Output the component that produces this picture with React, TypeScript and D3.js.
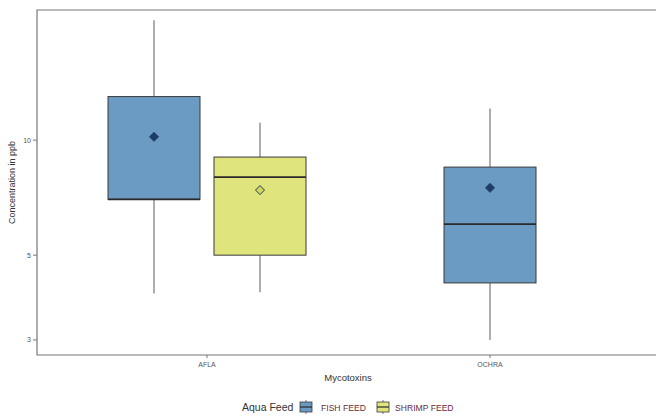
import React from "react";
import * as d3 from "d3";

const categories = ["AFLA", "OCHRA"];
const groups = ["FISH FEED", "SHRIMP FEED"];
// [category, group, whiskerLow, q1, median, q3, whiskerHigh, mean]
const boxes: [string, string, number, number, number, number, number, number][] = [
  ["AFLA", "FISH FEED", 3.97, 7.0, 7.0, 13.0, 20.6, 10.2],
  ["AFLA", "SHRIMP FEED", 4.0, 5.0, 8.0, 9.03, 11.1, 7.4],
  ["OCHRA", "FISH FEED", 3.0, 4.23, 6.03, 8.5, 12.1, 7.5],
];
const yTicks = [3, 5, 10];

const fills: Record<string, string> = { "FISH FEED": "#6b9bc3", "SHRIMP FEED": "#dfe47c" };
const meanFill: Record<string, string> = { "FISH FEED": "#1e3d66", "SHRIMP FEED": "#d2d65a" };

export default function App() {
  const W = 656, H = 420;
  const left = 37, right = 680, top = 10, bottom = 355;
  const y = d3.scaleLog().domain([2.74, 21.9]).range([bottom, top]);
  const x = d3.scalePoint<string>().domain(categories).range([207, 490]);
  const bw = 92, off = 53;
  const font = "Liberation Sans, Arial, sans-serif";

  return (
    <div style={{ position: "absolute", left: 0, top: 0, width: W, height: H, overflow: "hidden" }}>
      <svg width={W} height={H} style={{ display: "block", background: "#fff" }} fontFamily={font}>
        <path d={`M${right},${top}H${left}V${bottom}H${right}`} fill="none" stroke="#777" strokeWidth={1.2} />
        {yTicks.map((t) => (
          <g key={t}>
            <line x1={left - 4} x2={left} y1={y(t)} y2={y(t)} stroke="#777" />
            <text x={left - 6} y={y(t)} dy="0.35em" textAnchor="end" fontSize={7} fill="#555">{t}</text>
          </g>
        ))}
        {categories.map((c) => (
          <g key={c}>
            <line x1={x(c)} x2={x(c)} y1={bottom} y2={bottom + 3} stroke="#777" />
            <text x={x(c)} y={bottom + 12} textAnchor="middle" fontSize={7} fill="#555">{c}</text>
          </g>
        ))}
        {boxes.map(([c, g, lo, q1, med, q3, hi, mean]) => {
          const n = boxes.filter((b) => b[0] === c).length;
          const cx = (x(c) as number) + (n > 1 ? (g === groups[0] ? -off : off) : 0);
          return (
            <g key={c + g}>
              <line x1={cx} x2={cx} y1={y(hi)} y2={y(q3)} stroke="#777" strokeWidth={1.2} />
              <line x1={cx} x2={cx} y1={y(q1)} y2={y(lo)} stroke="#777" strokeWidth={1.2} />
              <rect x={cx - bw / 2} y={y(q3)} width={bw} height={y(q1) - y(q3)} fill={fills[g]} stroke="#3a3a3a" strokeWidth={1} />
              <line x1={cx - bw / 2} x2={cx + bw / 2} y1={y(med)} y2={y(med)} stroke="#2a2a2a" strokeWidth={1.8} />
              <path d={`M${cx},${y(mean) - 4.5}L${cx + 4.5},${y(mean)}L${cx},${y(mean) + 4.5}L${cx - 4.5},${y(mean)}Z`} fill={meanFill[g]} stroke="#1e3d66" strokeWidth={1} />
            </g>
          );
        })}
        <text transform={`translate(15,${(top + bottom) / 2}) rotate(-90)`} textAnchor="middle" fontSize={9} fill="#333">Concentration in ppb</text>
        <text x={348} y={381} textAnchor="middle" fontSize={9.5} fill="#333">Mycotoxins</text>
        <g>
          <text x={242} y={411} fontSize={10.5} fill="#333">Aqua Feed</text>
          {groups.map((g, i) => {
            const kx = i === 0 ? 299 : 376;
            const tx = i === 0 ? 321 : 395;
            return (
              <g key={g}>
                <line x1={kx + 7} x2={kx + 7} y1={400} y2={414} stroke="#777" />
                <rect x={kx + 1} y={402} width={12} height={10} fill={fills[g]} stroke="#3a3a3a" strokeWidth={0.8} />
                <line x1={kx + 1} x2={kx + 13} y1={407} y2={407} stroke="#2a2a2a" strokeWidth={1.2} />
                <text x={tx} y={410.5} fontSize={8.6} fill="#6a2c3c">{g}</text>
              </g>
            );
          })}
        </g>
      </svg>
    </div>
  );
}
